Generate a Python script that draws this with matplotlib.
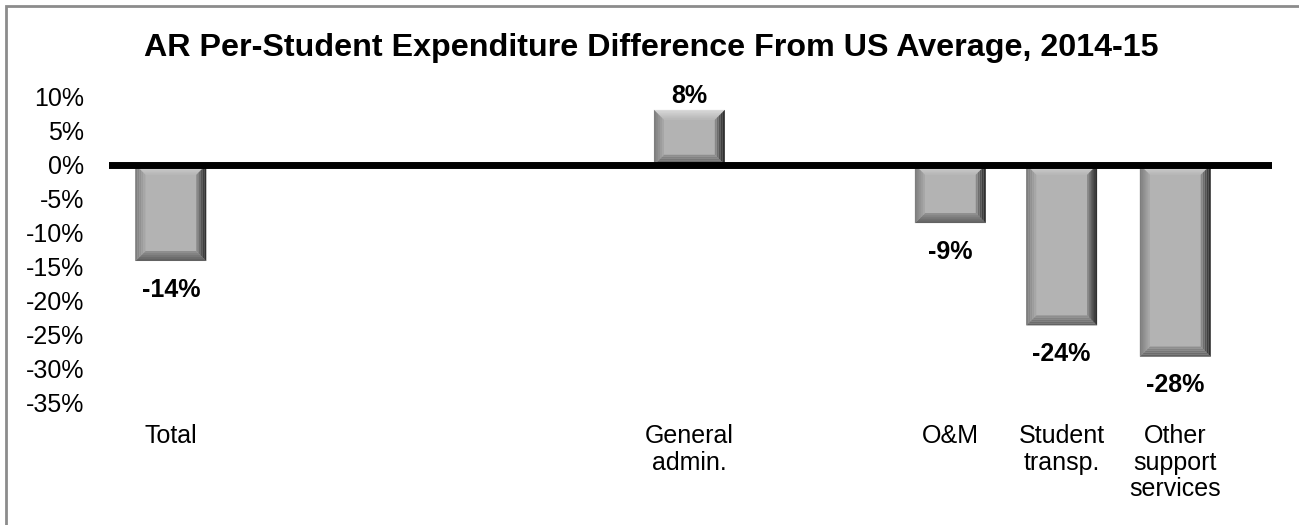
import matplotlib
matplotlib.use("Agg")
import matplotlib.pyplot as plt
from matplotlib.patches import Polygon, Rectangle

plt.rcParams['font.family'] = ['Liberation Sans', 'DejaVu Sans']

# ---- data ----
categories = ["Total", "General\nadmin.", "O&M", "Student\ntransp.", "Other\nsupport\nservices"]
values = [-14.2, 8.1, -8.6, -23.7, -28.3]
value_labels = ["-14%", "8%", "-9%", "-24%", "-28%"]
y_ticks = [10, 5, 0, -5, -10, -15, -20, -25, -30, -35]
title = "AR Per-Student Expenditure Difference From US Average, 2014-15"

# ---- layout (category slot positions on the axis) ----
slot_pos = [0.55, 5.16, 7.48, 8.47, 9.48]
x_lim = (0, 10.34)
y_lim = (-35, 10)
bar_width = 0.63

W, H, DPI = 1299, 525, 100
fig = plt.figure(figsize=(W / DPI, H / DPI), dpi=DPI)
ax_l, ax_r, ax_b, ax_t = 109 / W, 1272 / W, 1 - 402 / H, 1 - 97 / H
ax = fig.add_axes([ax_l, ax_b, ax_r - ax_l, ax_t - ax_b])
ax.set_xlim(*x_lim)
ax.set_ylim(*y_lim)

bars = ax.bar(slot_pos, values, width=bar_width, color="#B3B3B3",
              edgecolor="none", zorder=2)

# bevel effect
ax_w_px = (ax_r - ax_l) * W
ax_h_px = (ax_t - ax_b) * H
ux = (x_lim[1] - x_lim[0]) / ax_w_px
uy = (y_lim[1] - y_lim[0]) / ax_h_px
bev = 10
top_cols = ["#D8D8D8", "#D0D0D0", "#C8C8C8", "#C0C0C0", "#B9B9B9"]
left_cols = ["#7E7E7E", "#888888", "#929292", "#9C9C9C", "#A6A6A6"]
right_cols = ["#303030", "#404040", "#555555", "#6E6E6E", "#888888"]
bot_cols = ["#626262", "#6C6C6C", "#777777", "#828282", "#8E8E8E"]
bands = len(top_cols)
for rect in bars.patches:
    x0 = rect.get_x()
    x1 = x0 + rect.get_width()
    ya = rect.get_y()
    yb = ya + rect.get_height()
    y0, y1 = min(ya, yb), max(ya, yb)
    for i in range(bands):
        dx0 = bev * i / bands * ux
        dx1 = bev * (i + 1) / bands * ux
        dy0 = bev * i / bands * uy
        dy1 = bev * (i + 1) / bands * uy
        # top
        ax.add_patch(Polygon([(x0 + dx0, y1 - dy0), (x1 - dx0, y1 - dy0),
                              (x1 - dx1, y1 - dy1), (x0 + dx1, y1 - dy1)],
                             closed=True, color=top_cols[i], lw=0, zorder=3))
        # bottom
        ax.add_patch(Polygon([(x0 + dx0, y0 + dy0), (x1 - dx0, y0 + dy0),
                              (x1 - dx1, y0 + dy1), (x0 + dx1, y0 + dy1)],
                             closed=True, color=bot_cols[i], lw=0, zorder=3))
        # left
        ax.add_patch(Polygon([(x0 + dx0, y0 + dy0), (x0 + dx0, y1 - dy0),
                              (x0 + dx1, y1 - dy1), (x0 + dx1, y0 + dy1)],
                             closed=True, color=left_cols[i], lw=0, zorder=3))
        # right
        ax.add_patch(Polygon([(x1 - dx0, y0 + dy0), (x1 - dx0, y1 - dy0),
                              (x1 - dx1, y1 - dy1), (x1 - dx1, y0 + dy1)],
                             closed=True, color=right_cols[i], lw=0, zorder=3))

# zero line
ax.axhline(0, color="black", lw=5, zorder=5)

# data labels
for rect, v, lab in zip(bars.patches, values, value_labels):
    cx = rect.get_x() + rect.get_width() / 2
    if v >= 0:
        ax.annotate(lab, (cx, v), xytext=(0, 1), textcoords="offset points",
                    ha="center", va="bottom", fontsize=18, fontweight="bold",
                    annotation_clip=False, zorder=6)
    else:
        ax.annotate(lab, (cx, v), xytext=(0, -12), textcoords="offset points",
                    ha="center", va="top", fontsize=18, fontweight="bold",
                    annotation_clip=False, zorder=6)

ax.set_yticks(y_ticks)
ax.set_yticklabels([f"{t}%" for t in y_ticks])
ax.set_xticks(slot_pos)
ax.set_xticklabels(categories, linespacing=1.12)
ax.tick_params(axis="y", length=0, pad=18, labelsize=18)
ax.tick_params(axis="x", length=0, pad=16, labelsize=18)
for s in ax.spines.values():
    s.set_visible(False)

fig.text(651 / W, 1 - 48 / H, title, ha="center", va="center",
         fontsize=23.2, fontweight="bold")

# figure border (left and top only visible)
fig.patches.append(Rectangle((6 / W, -0.1), 1.2, 1 - 6 / H + 0.1,
                             transform=fig.transFigure, fill=False,
                             edgecolor="#8C8C8C", lw=2))

fig.savefig("out.png", dpi=DPI)
